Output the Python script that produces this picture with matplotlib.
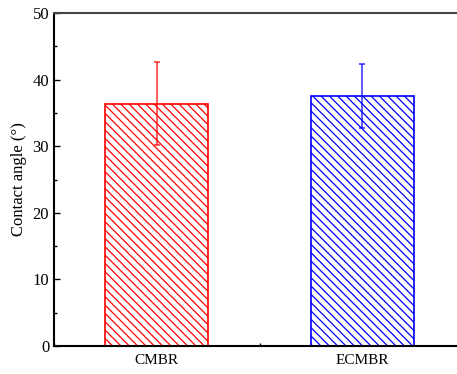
import matplotlib.pyplot as plt
from matplotlib.ticker import MultipleLocator

plt.rcParams['font.family'] = ['Liberation Serif', 'DejaVu Serif']
plt.rcParams['hatch.linewidth'] = 0.9

categories = ['CMBR', 'ECMBR']
angles = [36.4, 37.5]
errors = [6.2, 4.8]
colors = ['red', 'blue']

fig = plt.figure(figsize=(4.57, 3.74), dpi=100)
# right edge of the axes sits past the figure, as in the cropped original
ax = fig.add_axes([54 / 457, 28 / 374, 411 / 457, 333 / 374])

x = [1, 2]
for xi, v, e, c in zip(x, angles, errors, colors):
    ax.bar(xi, v, width=0.5, facecolor='white', edgecolor=c, hatch='\\\\\\\\',
           linewidth=1.2, zorder=2)
    ax.errorbar(xi, v, yerr=e, color=c, capsize=2.5, elinewidth=1.2,
                capthick=1.2, alpha=0.75, zorder=3)

ax.set_xlim(0.5, 2.5)
ax.set_ylim(0, 50)
ax.set_xticks(x)
ax.set_xticklabels(categories, fontsize=11)
ax.xaxis.set_minor_locator(MultipleLocator(0.5))
ax.yaxis.set_major_locator(MultipleLocator(10))
ax.yaxis.set_minor_locator(MultipleLocator(5))
ax.tick_params(axis='both', which='major', direction='in', length=4, width=1,
               labelsize=12)
ax.tick_params(axis='x', which='major', labelsize=11, pad=6)
ax.tick_params(axis='both', which='minor', direction='in', length=2.5, width=1)
ax.set_ylabel('Contact angle (°)', fontsize=12)

ax.spines['left'].set_linewidth(1.5)
ax.spines['bottom'].set_linewidth(1.5)
ax.spines['top'].set_linewidth(1.5)
ax.spines['top'].set_color('#444444')

fig.savefig('out.png', dpi=100)
